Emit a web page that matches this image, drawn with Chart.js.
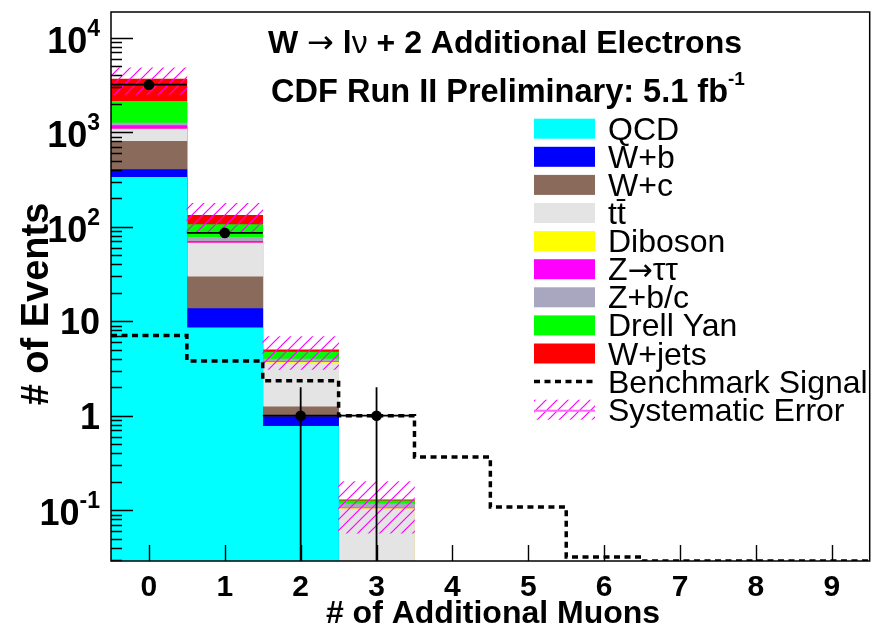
<!DOCTYPE html>
<html>
<head>
<meta charset="utf-8">
<script src="https://cdn.jsdelivr.net/npm/chart.js@4.4.1/dist/chart.umd.min.js"></script>
<style>
  html, body { margin: 0; padding: 0; background: #ffffff; }
  #wrap { width: 875px; height: 627px; }
</style>
</head>
<body>
<div id="wrap"><canvas id="c" width="875" height="627"></canvas></div>
<script>
// Number of additional muons (bin centres)
const bins = [0, 1, 2, 3, 4, 5, 6, 7, 8, 9];
const xTickLabels = ['0', '1', '2', '3', '4', '5', '6', '7', '8', '9'];

// Log axis decades and their labels (base + exponent)
const yDecades = [0.1, 1, 10, 100, 1000, 10000];
const yTickBase = ['10', '1', '10', '10', '10', '10'];
const yTickExp  = ['-1', '', '', '2', '3', '4'];

// Background expectations per bin (stack order: bottom to top)
const qcd      = [332, 8.5, 0.77, 0, 0, 0, 0, 0, 0, 0];
const wPlusB   = [69, 5.1, 0.21, 0, 0, 0, 0, 0, 0, 0];
const wPlusC   = [399, 15.8, 0.26, 0, 0, 0, 0, 0, 0, 0];
const ttbar    = [245, 36.2, 2.37, 0.103, 0, 0, 0, 0, 0, 0];
const diboson  = [37, 1.4, 0.05, 0.001, 0, 0, 0, 0, 0, 0];
const zTauTau  = [90, 2.9, 0.06, 0.001, 0, 0, 0, 0, 0, 0];
const zPlusBC  = [79, 7.1, 0.26, 0.012, 0, 0, 0, 0, 0, 0];
const drellYan = [867, 28, 0.74, 0.009, 0, 0, 0, 0, 0, 0];
const wJets    = [1538, 27, 0.27, 0.003, 0, 0, 0, 0, 0, 0];

// Systematic uncertainty on the total expectation
const sysError = [1150, 45, 1.9, 0.072, 0, 0, 0, 0, 0, 0];

// Benchmark signal
const signal = [7.06, 3.8, 2.34, 1.0, 0.366, 0.108, 0.032, 0.029, 0.029, 0.029];

// Observed data and its uncertainty
const observed    = [3180, 86, 1, 1, 0, 0, 0, 0, 0, 0];
const observedErr = [56, 9.3, 1, 1, 0, 0, 0, 0, 0, 0];

const legendLabels = ['QCD', 'W+b', 'W+c', 'tt\u0304', 'Diboson', 'Z\u2192\u03c4\u03c4', 'Z+b/c', 'Drell Yan', 'W+jets', 'Benchmark Signal', 'Systematic Error'];

const components = [
  { label: legendLabels[0], values: qcd,      color: '#00ffff' },
  { label: legendLabels[1], values: wPlusB,   color: '#0000ff' },
  { label: legendLabels[2], values: wPlusC,   color: '#8a6a5a' },
  { label: legendLabels[3], values: ttbar,    color: '#e4e4e4' },
  { label: legendLabels[4], values: diboson,  color: '#ffff00' },
  { label: legendLabels[5], values: zTauTau,  color: '#ff00ff' },
  { label: legendLabels[6], values: zPlusBC,  color: '#a9a6c0' },
  { label: legendLabels[7], values: drellYan, color: '#00ff00' },
  { label: legendLabels[8], values: wJets,    color: '#ff0000' }
];

const canvas = document.getElementById('c');
const mainCtx = canvas.getContext('2d');

// Diagonal magenta hatching for the systematic band
function makeHatch() {
  const s = 11;
  const tile = document.createElement('canvas');
  tile.width = s; tile.height = s;
  const g = tile.getContext('2d');
  g.strokeStyle = '#ff00ff';
  g.lineWidth = 1.2;
  g.beginPath();
  g.moveTo(0, s); g.lineTo(s, 0);
  g.moveTo(-2, 2); g.lineTo(2, -2);
  g.moveTo(s - 2, s + 2); g.lineTo(s + 2, s - 2);
  g.stroke();
  return mainCtx.createPattern(tile, 'repeat');
}
const hatch = makeHatch();

// Cumulative histograms, drawn back to front like a stack
let running = bins.map(() => 0);
const stackSets = components.map((c, k) => {
  running = running.map((v, i) => v + c.values[i]);
  const cum = running.slice();
  return {
    type: 'bar',
    label: c.label,
    data: bins.map((b, i) => ({ x: b, y: cum[i] > 0 ? cum[i] : null })),
    backgroundColor: c.color,
    borderWidth: 0,
    grouped: false,
    barPercentage: 1,
    categoryPercentage: 1,
    order: 3 + k
  };
});
const totals = running.slice();

const sysSet = {
  type: 'bar',
  label: legendLabels[10],
  data: bins.map((b, i) => ({ x: b, y: sysError[i] > 0 ? [totals[i] - sysError[i], totals[i] + sysError[i]] : null })),
  backgroundColor: hatch,
  borderWidth: 0,
  grouped: false,
  barPercentage: 1,
  categoryPercentage: 1,
  order: 2
};

// Step outline: one point at each bin's lower edge, plus the final upper edge
const signalPoints = bins.map((b, i) => ({ x: b - 0.5, y: signal[i] }));
signalPoints.push({ x: bins[bins.length - 1] + 0.5, y: signal[signal.length - 1] });
const signalSet = {
  type: 'line',
  label: legendLabels[9],
  data: signalPoints,
  stepped: true,
  borderColor: '#000000',
  borderWidth: 3.5,
  borderDash: [6, 4.5],
  pointRadius: 0,
  fill: false,
  order: 1
};

const dataSet = {
  type: 'line',
  label: 'Data',
  data: bins.map((b, i) => ({ x: b, y: observed[i] > 0 ? observed[i] : null })),
  showLine: false,
  pointRadius: 5.3,
  pointBackgroundColor: '#000000',
  pointBorderWidth: 0,
  order: 0
};

const FONT = '"Liberation Sans", Arial, Helvetica, sans-serif';
const SYM = '"DejaVu Sans", "Liberation Sans", sans-serif';

const decor = {
  id: 'decor',
  afterDatasetsDraw(chart) {
    const ctx = chart.ctx;
    const a = chart.chartArea;
    const xs = chart.scales.x, ys = chart.scales.y;
    ctx.save();
    // data error bars
    ctx.strokeStyle = '#000';
    ctx.lineWidth = 1.8;
    bins.forEach((b, i) => {
      if (!(observed[i] > 0)) return;
      const px = xs.getPixelForValue(b);
      const py = ys.getPixelForValue(observed[i]);
      const lo = observed[i] - observedErr[i];
      const yLo = lo > ys.min ? ys.getPixelForValue(lo) : a.bottom;
      const yHi = ys.getPixelForValue(observed[i] + observedErr[i]);
      ctx.beginPath();
      ctx.moveTo(px, yLo); ctx.lineTo(px, yHi);
      ctx.moveTo(xs.getPixelForValue(b - 0.5), py); ctx.lineTo(xs.getPixelForValue(b + 0.5), py);
      ctx.stroke();
    });
    // axis ticks (inside the frame)
    ctx.lineWidth = 1.4;
    ctx.beginPath();
    for (let e = -2; e <= 4; e++) {
      for (let k = 1; k <= 9; k++) {
        const v = k * Math.pow(10, e);
        if (v < ys.min || v > ys.max) continue;
        const py = Math.round(ys.getPixelForValue(v)) + 0.5;
        const len = k === 1 ? 22 : 11;
        ctx.moveTo(a.left, py); ctx.lineTo(a.left + len, py);
      }
    }
    bins.forEach((b) => {
      const px = Math.round(xs.getPixelForValue(b)) + 0.5;
      ctx.moveTo(px, a.bottom); ctx.lineTo(px, a.bottom - 16);
    });
    ctx.stroke();
    // frame
    ctx.lineWidth = 1.5;
    ctx.strokeRect(a.left, a.top, a.right - a.left, a.bottom - a.top);
    ctx.restore();
  },
  afterDraw(chart) {
    const ctx = chart.ctx;
    const xs = chart.scales.x, ys = chart.scales.y;
    ctx.save();
    ctx.fillStyle = '#000';
    ctx.textBaseline = 'alphabetic';

    // y tick labels
    yDecades.forEach((v, i) => {
      const py = ys.getPixelForValue(v);
      const right = 100;
      ctx.textAlign = 'right';
      if (yTickExp[i]) {
        ctx.font = 'bold 23px ' + FONT;
        const ew = ctx.measureText(yTickExp[i]).width;
        ctx.fillText(yTickExp[i], right, py - 2);
        ctx.font = 'bold 36px ' + FONT;
        ctx.fillText(yTickBase[i], right - ew, py + 15);
      } else {
        ctx.font = 'bold 36px ' + FONT;
        ctx.fillText(yTickBase[i], right, py + 13);
      }
    });

    // x tick labels
    ctx.font = 'bold 30px ' + FONT;
    ctx.textAlign = 'center';
    bins.forEach((b, i) => {
      ctx.fillText(xTickLabels[i], xs.getPixelForValue(b), 596);
    });

    // axis titles
    ctx.font = 'bold 32px ' + FONT;
    ctx.fillText('# of Additional Muons', 493, 623);
    ctx.save();
    ctx.translate(48, 304);
    ctx.rotate(-Math.PI / 2);
    ctx.font = 'bold 38px ' + FONT;
    ctx.fillText('# of Events', 0, 0);
    ctx.restore();

    // text made of runs in different fonts
    function drawRuns(runs, x0, y, align) {
      let w = 0;
      runs.forEach(r => { ctx.font = r.font; w += ctx.measureText(r.text).width; });
      let x = align === 'center' ? x0 - w / 2 : x0;
      ctx.textAlign = 'left';
      runs.forEach(r => {
        ctx.font = r.font;
        ctx.fillText(r.text, x, y + (r.dy || 0));
        x += ctx.measureText(r.text).width;
      });
    }
    const tb = 'bold 32px ' + FONT;
    drawRuns([
      { text: 'W ', font: tb },
      { text: '\u2192', font: '32px ' + SYM },
      { text: ' l', font: tb },
      { text: '\u03bd', font: '32px ' + FONT },
      { text: ' + 2 Additional Electrons', font: tb }
    ], 505, 53, 'center');
    drawRuns([
      { text: 'CDF Run II Preliminary: 5.1 fb', font: 'bold 32.5px ' + FONT },
      { text: '-1', font: 'bold 19px ' + FONT, dy: -17 }
    ], 508, 102, 'center');

    // legend
    const lx = 534, lw = 61, lh = 20, tx = 608;
    const y0 = 128.7, dy = 28.1;
    const lf = '32px ' + FONT;
    legendLabels.forEach((lab, i) => {
      const cy = y0 + i * dy;
      if (i < components.length) {
        ctx.fillStyle = components[i].color;
        ctx.fillRect(lx, cy - lh / 2, lw, lh);
      } else if (i === components.length) {
        ctx.save();
        ctx.strokeStyle = '#000';
        ctx.lineWidth = 3.5;
        ctx.setLineDash([6, 4.5]);
        ctx.beginPath(); ctx.moveTo(lx, cy); ctx.lineTo(lx + lw, cy); ctx.stroke();
        ctx.restore();
      } else {
        ctx.fillStyle = hatch;
        ctx.fillRect(lx, cy - lh / 2, lw, lh);
        ctx.save();
        ctx.strokeStyle = '#ff66ff';
        ctx.lineWidth = 2;
        ctx.beginPath(); ctx.moveTo(lx, cy + 1); ctx.lineTo(lx + lw, cy + 1); ctx.stroke();
        ctx.restore();
      }
      ctx.fillStyle = '#000';
      if (lab.indexOf('\u2192') >= 0) {
        const parts = lab.split('\u2192');
        drawRuns([
          { text: parts[0], font: lf },
          { text: '\u2192', font: '30px ' + SYM },
          { text: parts[1], font: lf }
        ], tx, cy + 11, 'left');
      } else {
        ctx.font = lf;
        ctx.textAlign = 'left';
        ctx.fillText(lab, tx, cy + 11);
      }
    });
    ctx.restore();
  }
};

new Chart(canvas, {
  data: { datasets: [dataSet, signalSet, sysSet].concat(stackSets) },
  options: {
    responsive: false,
    animation: false,
    devicePixelRatio: 1,
    layout: { padding: { left: 111, right: 2, top: 12, bottom: 66 } },
    scales: {
      x: { type: 'linear', min: -0.5, max: 9.5, offset: false, display: false },
      y: { type: 'logarithmic', min: 0.029, max: 18700, display: false }
    },
    plugins: { legend: { display: false }, tooltip: { enabled: false } }
  },
  plugins: [decor]
});
</script>
</body>
</html>
